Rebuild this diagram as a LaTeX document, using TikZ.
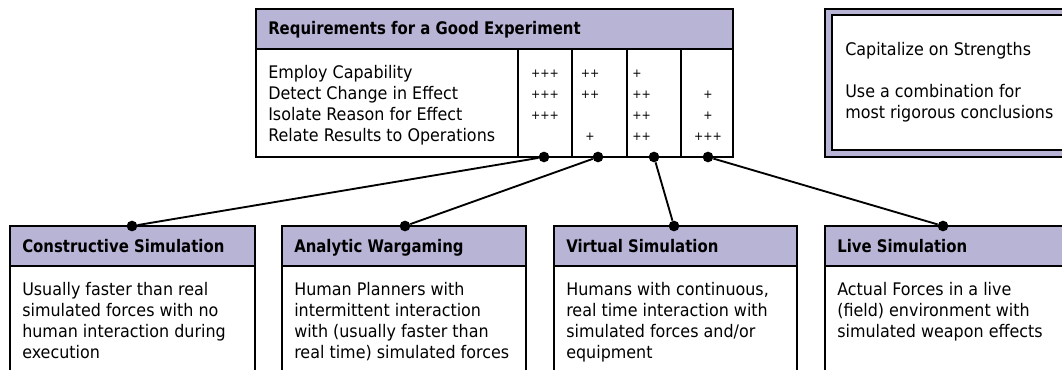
\documentclass[tikz,border=0pt]{standalone}
\usepackage{fontspec}
\setmainfont{DejaVu Sans}[FakeStretch=0.92]
\newfontfamily\headfont{DejaVu Sans}[FakeStretch=0.86]
\definecolor{hdr}{RGB}{184,180,214}
\newcommand\bodysize{\fontsize{13}{15.75}\selectfont}
\newcommand\headsize{\headfont\bfseries\fontsize{13}{15.75}\selectfont}
\newcommand\plussize{\fontsize{9}{10}\selectfont}
\tikzset{
  box/.style={draw=black, line width=1.5pt},
  dot/.style={circle, fill=black, inner sep=0pt, minimum size=8pt},
  link/.style={line width=1.4pt},
  % multi-line text: the base anchor sits on the last line
  txt/.style={anchor=base west, inner sep=0pt, align=left, font=\bodysize},
  hd/.style={anchor=base west, inner sep=0pt, font=\headsize},
  pl/.style={anchor=base, inner sep=0pt, font=\plussize},
  plw/.style={anchor=base west, inner sep=0pt, font=\plussize},
}
\begin{document}
\begin{tikzpicture}[x=0.75pt, y=-0.75pt]
\useasboundingbox (0,0) rectangle (1062,370);
\clip (0,0) rectangle (1062,370);

% requirements table
\draw[box, fill=hdr] (256,9) rectangle (733,49);
\draw[box] (256,49) rectangle (733,157);
\foreach \x in {518,572,627,681} \draw[box] (\x,49) -- (\x,157);
\node[hd] (reqtitle) at (268,35) {Requirements for a Good Experiment};
\node[txt] (reqlist) at (268,142) {Employ Capability\\Detect Change in Effect\\Isolate Reason for Effect\\Relate Results to Operations};

% ratings, column by column
\node[pl] (r11) at (545,78) {+++};
\node[pl] (r12) at (545,99) {+++};
\node[pl] (r13) at (545,120) {+++};
\node[pl] (r21) at (590,78) {++};
\node[pl] (r22) at (590,99) {++};
\node[pl] (r24) at (590,141) {+};
\node[plw] (r31) at (632,78) {+};
\node[plw] (r32) at (632,99) {++};
\node[plw] (r33) at (632,120) {++};
\node[plw] (r34) at (632,141) {++};
\node[pl] (r42) at (708,99) {+};
\node[pl] (r43) at (708,120) {+};
\node[pl] (r44) at (708,141) {+++};

% strengths box with double border
\draw[line width=1.5pt, fill=hdr] (825,9) rectangle (1080,157);
\draw[line width=1.5pt, fill=white] (832,15.5) rectangle (1080,150.5);
\node[txt] (cap) at (845,56) {Capitalize on Strengths};
\node[txt] (combo) at (845,119) {Use a combination for\\most rigorous conclusions};

% simulation boxes
\draw[box, fill=hdr] (10,226) rectangle (255,266);
\draw[box] (10,266) rectangle (255,390);
\node[hd] (cstitle) at (22,252) {Constructive Simulation};
\node[txt] (csbody) at (22,358) {Usually faster than real\\simulated forces with no\\human interaction during\\execution};

\draw[box, fill=hdr] (282,226) rectangle (526,266);
\draw[box] (282,266) rectangle (526,390);
\node[hd] (awtitle) at (294,252) {Analytic Wargaming};
\node[txt] (awbody) at (294,358) {Human Planners with\\intermittent interaction\\with (usually faster than\\real time) simulated forces};

\draw[box, fill=hdr] (554,226) rectangle (797,266);
\draw[box] (554,266) rectangle (797,390);
\node[hd] (vstitle) at (566,252) {Virtual Simulation};
\node[txt] (vsbody) at (566,358) {Humans with continuous,\\real time interaction with\\simulated forces and/or\\equipment};

\draw[box, fill=hdr] (825,226) rectangle (1080,266);
\draw[box] (825,266) rectangle (1080,390);
\node[hd] (lstitle) at (837,252) {Live Simulation};
\node[txt] (lsbody) at (837,337) {Actual Forces in a live\\(field) environment with\\simulated weapon effects};

% connection points
\node[dot] (t1) at (544,157) {};
\node[dot] (t2) at (598,157) {};
\node[dot] (t3) at (654,157) {};
\node[dot] (t4) at (708,157) {};
\node[dot] (b1) at (132,226) {};
\node[dot] (b2) at (405,226) {};
\node[dot] (b3) at (674,226) {};
\node[dot] (b4) at (943,226) {};

\draw[link] (t1) -- (b1);
\draw[link] (t2) -- (b2);
\draw[link] (t3) -- (b3);
\draw[link] (t4) -- (b4);
\end{tikzpicture}
\end{document}
